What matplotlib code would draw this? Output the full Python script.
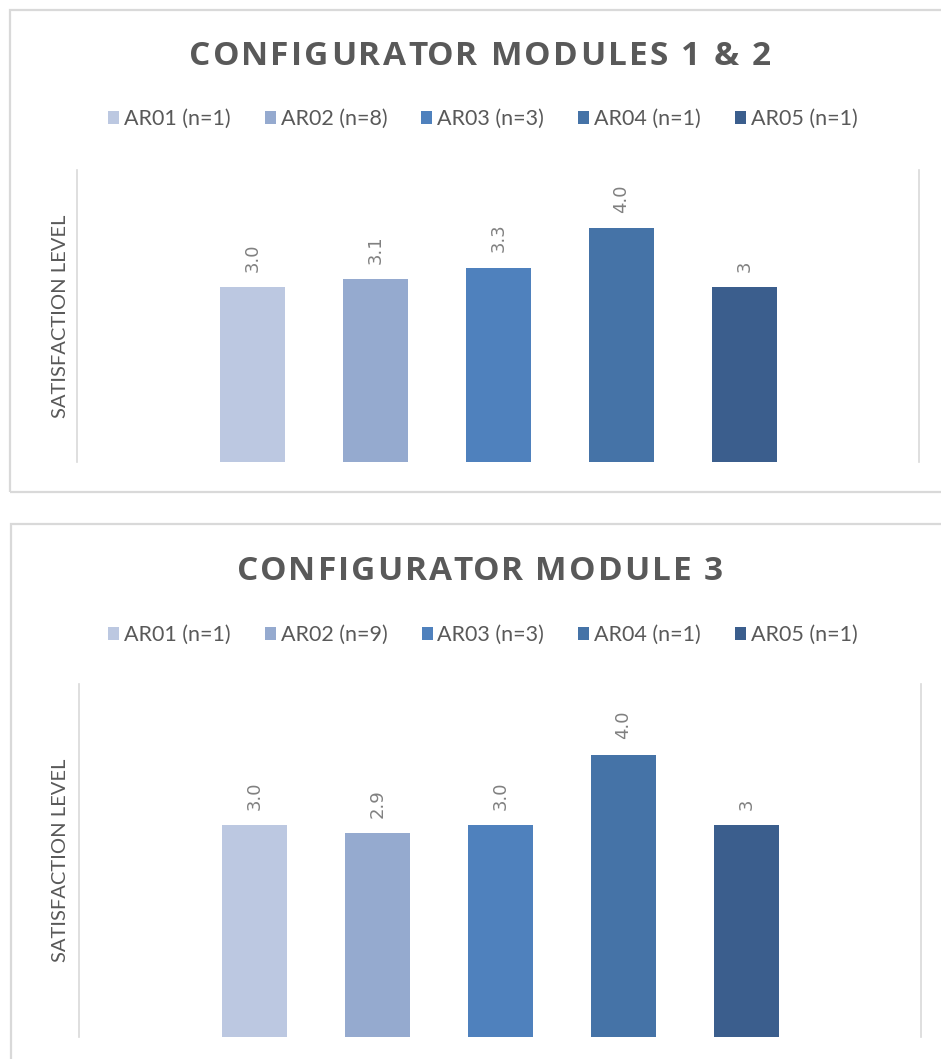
import matplotlib
matplotlib.use("Agg")
import matplotlib.pyplot as plt
from matplotlib.patches import Rectangle

# ---------------- data ----------------
series = ["AR01", "AR02", "AR03", "AR04", "AR05"]
n_top = [1, 8, 3, 1, 1]
n_bottom = [1, 9, 3, 1, 1]
values_top = [3.0, 3.13, 3.33, 4.0, 3.0]
values_bottom = [3.0, 2.89, 3.0, 4.0, 3.0]
labels_top = ["3.0", "3.1", "3.3", "4.0", "3"]
labels_bottom = ["3.0", "2.9", "3.0", "4.0", "3"]
title_top = "CONFIGURATOR MODULES 1 & 2"
title_bottom = "CONFIGURATOR MODULE 3"
ylabel = "SATISFACTION LEVEL"
colors = ["#BCC8E1", "#95AACF", "#4F81BD", "#4573A7", "#3B5E8D"]

W, H = 941, 1059
DPI = 100
TEXT = "#595959"
GRID = "#D9D9D9"
FONT = ["Lato", "DejaVu Sans"]
TITLE_FONT = ["Open Sans", "DejaVu Sans"]

fig = plt.figure(figsize=(W / DPI, H / DPI), dpi=DPI)
fig.patch.set_facecolor("white")


def fx(px):
    return px / W


def fy(py):
    return 1 - py / H


def spaced_text(s, xc, y_base, target_w, **kw):
    r = fig.canvas.get_renderer()

    def w(t):
        tt = fig.text(0, 0, t, **kw)
        bb = tt.get_window_extent(r)
        tt.remove()
        return bb.width

    sent = "I"
    base = w(sent)
    offs = [0.0 if i == 0 else w(s[:i] + sent) - base for i in range(len(s))]
    natural = w(s)
    n = len(s)
    sp = (target_w - natural) / (n - 1)
    x0 = xc - target_w / 2
    for i, ch in enumerate(s):
        if ch == " ":
            continue
        fig.text(fx(x0 + offs[i] + i * sp), fy(y_base), ch, ha="left",
                 va="baseline", **kw)


def panel(box, ax_box, title, title_w, title_y, legend_y, values, labels, ns):
    # panel border
    x0, y0, x1, y1 = box
    fig.patches.append(Rectangle((fx(x0), fy(y1)), fx(x1) - fx(x0), fy(y0) - fy(y1),
                                 transform=fig.transFigure, fill=False,
                                 edgecolor=GRID, linewidth=1.6))
    l, t, r, b = ax_box
    ax = fig.add_axes([fx(l), fy(b), fx(r) - fx(l), fy(t) - fy(b)])
    xs = list(range(len(values)))
    ax.bar(xs, values, width=0.53, color=colors, zorder=2)
    ax.set_xlim(-1.427, -1.427 + 842 / 123)
    ax.set_ylim(0, 5)
    ax.set_xticks([])
    ax.set_yticks([])
    for side in ["top", "bottom"]:
        ax.spines[side].set_visible(False)
    for side in ["left", "right"]:
        ax.spines[side].set_color(GRID)
        ax.spines[side].set_linewidth(1.2)
    for x, v, lab in zip(xs, values, labels):
        ax.annotate(lab, (x, v), xytext=(0, 11), textcoords="offset points",
                    rotation=90, ha="center", va="bottom", color="#808080",
                    fontsize=13, family=["DejaVu Sans"])
    ax.set_ylabel(ylabel, fontsize=14.5, color=TEXT, family=FONT)
    ax.yaxis.set_label_coords((61 - l) / (r - l), 0.5)
    ax.yaxis.label.set_verticalalignment("center")
    # title
    spaced_text(title, 480, title_y + 12, title_w, fontsize=24,
                fontweight="bold", color=TEXT, family=TITLE_FONT)
    # legend
    handles = [Rectangle((0, 0), 1, 1, facecolor=c) for c in colors]
    leg_labels = [f"{s} (n={n})" for s, n in zip(series, ns)]
    leg = ax.legend(handles, leg_labels, loc="center", ncol=5, frameon=False,
                    bbox_to_anchor=(fx(483), fy(legend_y)),
                    bbox_transform=fig.transFigure,
                    prop={"family": FONT, "size": 15.5},
                    handlelength=0.51, handleheight=0.51, handletextpad=0.23,
                    columnspacing=1.58, borderpad=0, borderaxespad=0)
    for txt in leg.get_texts():
        txt.set_color(TEXT)
    return ax


panel((10, 10, 980, 492), (77, 170, 919, 462), title_top, 582, 53, 119,
      values_top, labels_top, n_top)
panel((11, 524, 980, 1100), (79, 684, 921, 1037), title_bottom, 486, 568, 635,
      values_bottom, labels_bottom, n_bottom)

fig.savefig("out.png", dpi=DPI, facecolor="white")
